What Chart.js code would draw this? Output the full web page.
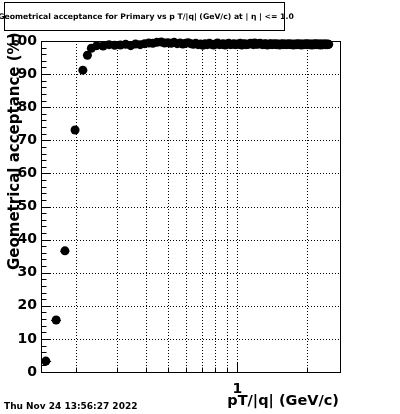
<!DOCTYPE html>
<html><head><meta charset="utf-8">
<script src="https://cdn.jsdelivr.net/npm/chart.js@4"></script>
<style>
html,body{margin:0;padding:0;background:#fff;}
#wrap{position:relative;width:400px;height:414px;overflow:hidden;background:#fff;}
#c{position:absolute;left:0;top:0;}
.t{position:absolute;font-family:"DejaVu Sans";font-weight:bold;color:#000;white-space:nowrap;}
#tbox{position:absolute;left:4px;top:2px;width:281px;height:29px;box-sizing:border-box;border:1px solid #000;}
#ttl{left:146px;top:12px;font-size:7.7px;line-height:10px;transform:translateX(-50%);}
#ytitle{left:7px;top:270px;font-size:15px;line-height:15px;transform-origin:0 0;transform:rotate(-90deg);}
#xtitle{right:61px;top:393px;font-size:14.5px;line-height:14.5px;}
#date{left:4px;top:401px;font-size:9px;line-height:10px;}
</style></head><body>
<div id="wrap">
<canvas id="c" width="400" height="414"></canvas>
<div id="tbox"></div>
<div class="t" id="ttl">Geometrical acceptance for Primary vs p T/|q| (GeV/c) at | η | &lt;= 1.0</div>
<div class="t" id="ytitle">Geometrical acceptance (%)</div>
<div class="t" id="xtitle">pT/|q| (GeV/c)</div>
<div class="t" id="date">Thu Nov 24 13:56:27 2022</div>
</div>
<script>
// bin centres in pT/|q| (GeV/c)
const ptBins = [
0.148,0.164,0.179,0.198,0.214,0.224,0.233,0.246,0.262,0.278,
0.294,0.311,0.328,0.345,0.362,0.379,0.396,0.413,0.430,0.448,
0.468,0.484,0.500,0.516,0.532,0.548,0.564,0.580,0.596,0.612,
0.628,0.644,0.660,0.676,0.692,0.708,0.724,0.740,0.756,0.772,
0.788,0.804,0.820,0.836,0.852,0.868,0.884,0.900,0.916,0.932,
0.948,0.964,0.980,0.996,1.012,1.028,1.044,1.060,1.076,1.092,
1.108,1.124,1.140,1.156,1.172,1.188,1.204,1.220,1.236,1.252,
1.268,1.284,1.300,1.316,1.332,1.348,1.364,1.380,1.396,1.412,
1.428,1.444,1.460,1.476,1.492,1.508,1.524,1.540,1.556,1.572,
1.588,1.604,1.620,1.636,1.652,1.668,1.684,1.700,1.716,1.732,
1.748,1.764,1.780,1.796,1.812,1.828,1.844,1.860,1.876,1.892,
1.908,1.924,1.940,1.956,1.972,1.988,2.004,2.020,2.036,2.052,
2.068,2.084,2.100,2.116,2.132,2.148,2.164,2.180,2.196,2.212,
2.228,2.244,2.260,2.276,2.292,2.308,2.324,2.340,2.356,2.372,
2.388,2.404,2.420,2.436,2.452,2.468,2.484];
const binHalfWidth = 0.008;
// geometrical acceptance (%)
const acceptance = [
3.3,15.7,36.6,73.1,91.2,95.7,97.8,98.6,98.5,98.9,
98.7,98.8,99.0,98.6,99.1,98.9,99.2,99.4,99.3,99.6,
99.7,99.4,99.5,99.3,99.6,99.2,99.4,99.1,99.3,99.5,
99.2,99.0,99.3,98.9,99.1,98.7,99.2,98.9,99.3,99.0,
98.8,99.1,99.4,98.9,99.0,99.2,98.8,99.1,99.3,98.9,
99.0,
99.2,98.9,99.1,99.0,99.3,98.8,99.1,99.2,98.9,99.0,
99.1,99.3,99.2,98.9,99.4,99.1,99.0,99.2,99.3,99.1,
98.9,99.0,99.2,99.1,98.8,99.0,99.1,99.2,98.9,99.1,
99.0,99.2,98.9,99.1,99.0,98.8,99.1,99.0,99.2,98.9,
99.0,99.1,98.9,99.0,99.2,99.0,98.9,99.1,99.0,98.8,
99.0,99.1,98.9,99.0,99.2,98.9,99.0,99.1,98.8,99.0,
99.1,98.9,99.0,99.0,99.2,98.9,99.1,99.0,98.9,99.1,
99.0,98.8,99.0,99.1,98.9,99.0,99.2,98.9,99.0,99.1,
98.9,99.0,99.1,98.8,99.0,99.1,98.9,99.0,99.0,99.1,
98.9,99.0,99.1,98.9,99.0,99.0];
// axis ticks
const xTicks = [0.2,0.3,0.4,0.5,0.6,0.7,0.8,0.9,1,2];
const xMajorTicks = [1];
const xTickLabels = {1:'1'};
const yTicks = [0,10,20,30,40,50,60,70,80,90,100];
const yMinorTicks = [2,4,6,8,12,14,16,18,22,24,26,28,32,34,36,38,42,44,46,48,52,54,56,58,62,64,66,68,72,74,76,78,82,84,86,88,92,94,96,98];
const yGrid = [10,20,30,40,50,60,70,80,90];
const xMin = 0.141, xMax = 2.78, yMin = 0, yMax = 100;

const points = ptBins.map((x,i)=>({x:x,y:acceptance[i]}));

function hline(ctx,x1,x2,y){ctx.beginPath();ctx.moveTo(x1,y);ctx.lineTo(x2,y);ctx.stroke();}
function vline(ctx,x,y1,y2){ctx.beginPath();ctx.moveTo(x,y1);ctx.lineTo(x,y2);ctx.stroke();}

const rootPlugin = {
  id:'rootStyle',
  beforeDatasetsDraw(chart){
    const {ctx, chartArea:a, scales:{x,y}} = chart;
    ctx.save();
    ctx.strokeStyle='#000'; ctx.lineWidth=1;
    ctx.setLineDash([1,2]);
    yGrid.forEach(v=>{const py=Math.round(y.getPixelForValue(v))+0.5; hline(ctx,a.left,a.right,py);});
    xTicks.forEach(v=>{const px=Math.round(x.getPixelForValue(v))+0.5; vline(ctx,px,a.top,a.bottom);});
    ctx.setLineDash([]);
    // horizontal (bin width) error bars
    ptBins.forEach((v,i)=>{
      const py=Math.round(y.getPixelForValue(acceptance[i]))+0.5;
      const x1=Math.max(a.left,x.getPixelForValue(v-binHalfWidth));
      const x2=Math.min(a.right,x.getPixelForValue(v+binHalfWidth));
      hline(ctx,x1,x2,py);
    });
    ctx.restore();
  },
  afterDatasetsDraw(chart){
    const {ctx, chartArea:a, scales:{x,y}} = chart;
    ctx.save();
    ctx.strokeStyle='#000'; ctx.lineWidth=1;
    const L=Math.round(a.left)+0.5, R=Math.round(a.right)+0.5, T=Math.round(a.top)+0.5, B=Math.round(a.bottom)+0.5;
    ctx.strokeRect(L,T,R-L,B-T);
    yTicks.forEach(v=>{const py=Math.round(y.getPixelForValue(v))+0.5; hline(ctx,L,L+9,py);});
    yMinorTicks.forEach(v=>{const py=Math.round(y.getPixelForValue(v))+0.5; hline(ctx,L,L+5,py);});
    xTicks.forEach(v=>{const px=Math.round(x.getPixelForValue(v))+0.5; const len = xMajorTicks.includes(v)?10:5; vline(ctx,px,B,B-len);});
    ctx.restore();
  }
};

new Chart(document.getElementById('c'),{
  type:'scatter',
  data:{datasets:[{
    data:points,
    backgroundColor:'#000',
    borderColor:'#000',
    pointRadius:4.5,
    pointHoverRadius:4.5,
    pointBorderWidth:0,
    showLine:false,
    clip:false
  }]},
  options:{
    responsive:false,
    animation:false,
    events:[],
    layout:{padding:{top:41,right:60,left:0,bottom:0}},
    plugins:{legend:{display:false},tooltip:{enabled:false},title:{display:false}},
    scales:{
      x:{
        type:'logarithmic',min:xMin,max:xMax,
        afterBuildTicks:(s)=>{s.ticks=xTicks.map(v=>({value:v}));},
        afterFit:(s)=>{s.height=42;},
        grid:{display:false,drawTicks:false},
        border:{display:false},
        ticks:{autoSkip:false,maxRotation:0,minRotation:0,padding:9,color:'#000',
          font:{family:'DejaVu Sans',weight:'bold',size:14},
          callback:(v)=>xTickLabels[v]||''}
      },
      y:{
        type:'linear',min:yMin,max:yMax,
        afterBuildTicks:(s)=>{s.ticks=yTicks.map(v=>({value:v}));},
        afterFit:(s)=>{s.width=41;},
        grid:{display:false,drawTicks:false},
        border:{display:false},
        ticks:{padding:4,color:'#000',
          font:{family:'DejaVu Sans',weight:'bold',size:14}}
      }
    }
  },
  plugins:[rootPlugin]
});
</script>
</body></html>
